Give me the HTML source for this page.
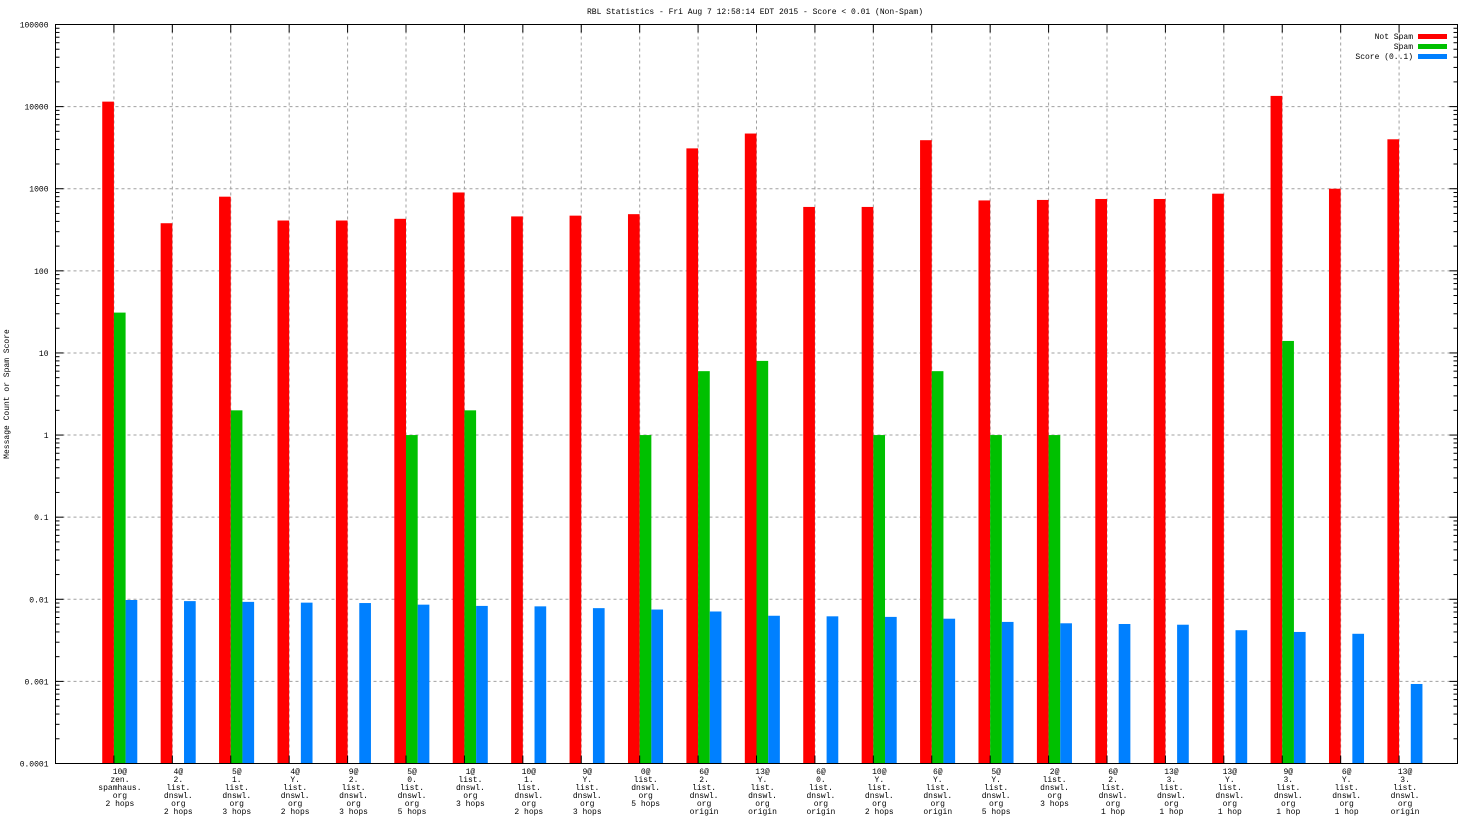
<!DOCTYPE html>
<html><head><meta charset="utf-8"><style>
body{margin:0;background:#fff;}
svg{display:block;font-family:"Liberation Mono",monospace;font-size:8px;}
</style></head><body>
<svg id="c" width="1472" height="828" xmlns="http://www.w3.org/2000/svg">
<text x="755" y="14" text-anchor="middle">RBL Statistics - Fri Aug  7 12:58:14 EDT 2015 - Score &lt; 0.01 (Non-Spam)</text>
<text transform="translate(9,394) rotate(-90)" text-anchor="middle">Message Count or Spam Score</text>
<g id="grid"></g><g id="bars"></g><g id="axes"></g>
<g>
<text x="1413" y="39" text-anchor="end">Not Spam</text>
<rect x="1418" y="34" width="29" height="5" fill="#ff0000"/>
<text x="1413" y="49" text-anchor="end">Spam</text>
<rect x="1418" y="44" width="29" height="5" fill="#00c000"/>
<text x="1413" y="59" text-anchor="end">Score (0..1)</text>
<rect x="1418" y="54" width="29" height="5" fill="#0080ff"/>
</g>
</svg>
<script>
const categories=[
["10@","zen.","spamhaus.","org","2 hops"],["4@","2.","list.","dnswl.","org","2 hops"],["5@","1.","list.","dnswl.","org","3 hops"],["4@","Y.","list.","dnswl.","org","2 hops"],["9@","2.","list.","dnswl.","org","3 hops"],["5@","0.","list.","dnswl.","org","5 hops"],["1@","list.","dnswl.","org","3 hops"],["10@","1.","list.","dnswl.","org","2 hops"],["9@","Y.","list.","dnswl.","org","3 hops"],["0@","list.","dnswl.","org","5 hops"],["6@","2.","list.","dnswl.","org","origin"],["13@","Y.","list.","dnswl.","org","origin"],["6@","0.","list.","dnswl.","org","origin"],["10@","Y.","list.","dnswl.","org","2 hops"],["6@","Y.","list.","dnswl.","org","origin"],["5@","Y.","list.","dnswl.","org","5 hops"],["2@","list.","dnswl.","org","3 hops"],["6@","2.","list.","dnswl.","org","1 hop"],["13@","3.","list.","dnswl.","org","1 hop"],["13@","Y.","list.","dnswl.","org","1 hop"],["9@","3.","list.","dnswl.","org","1 hop"],["6@","Y.","list.","dnswl.","org","1 hop"],["13@","3.","list.","dnswl.","org","origin"]];
const notSpam=[11500,380,800,410,410,430,900,460,470,490,3100,4700,600,600,3900,720,730,750,750,870,13500,1000,4000];
const spam=[31,0,2,0,0,1,2,0,0,1,6,8,0,1,6,1,1,0,0,0,14,0,0];
const score=[0.0098,0.0095,0.0093,0.0091,0.009,0.0086,0.0083,0.0082,0.0078,0.0075,0.0071,0.0063,0.0062,0.0061,0.0058,0.0053,0.0051,0.005,0.0049,0.0042,0.004,0.0038,0.00093];
const yTicks=["0.0001","0.001","0.01","0.1","1","10","100","1000","10000","100000"];
const NS="http://www.w3.org/2000/svg";
const L=55.5,R=1457.5,T=24.5,B=763.5;
const step=(R-L)/24, bw=step/5;
function y(v){return B-(Math.log10(v)+4)/9*(B-T);}
function gx(i){return L+step*(i+1);}
function mk(p,tag,a){const e=document.createElementNS(NS,tag);for(const k in a)e.setAttribute(k,a[k]);p.appendChild(e);return e;}
const grid=document.getElementById('grid'),bars=document.getElementById('bars'),axes=document.getElementById('axes');
yTicks.forEach((t,k)=>{const v=parseFloat(t),yy=y(v);
 if(k>0&&k<yTicks.length-1){const g=mk(grid,'line',{x1:L,x2:R,y1:yy,y2:yy,stroke:'#a0a0a0','stroke-dasharray':'3,3'});
 
 }
 const tx=mk(axes,'text',{x:L-7,y:yy+3,'text-anchor':'end'});tx.textContent=t;
 
 
 mk(axes,'line',{x1:L,x2:L+8,y1:yy,y2:yy,stroke:'#000'});mk(axes,'line',{x1:R,x2:R-8,y1:yy,y2:yy,stroke:'#000'});
 if(k<yTicks.length-1)for(let m=2;m<10;m++){const ym=y(v*m);mk(axes,'line',{x1:L,x2:L+4,y1:ym,y2:ym,stroke:'#000'});mk(axes,'line',{x1:R,x2:R-4,y1:ym,y2:ym,stroke:'#000'});}
});
categories.forEach((c,i)=>{const x=gx(i);
 const g=mk(grid,'line',{x1:x,x2:x,y1:T,y2:B,stroke:'#a0a0a0','stroke-dasharray':'3,3'});
 
 
 mk(axes,'line',{x1:x,x2:x,y1:B,y2:B-8,stroke:'#000'});mk(axes,'line',{x1:x,x2:x,y1:T,y2:T+8,stroke:'#000'});
 const series=[[notSpam,'#ff0000',x-bw,'bar-not-spam'],[spam,'#00c000',x,'bar-spam'],[score,'#0080ff',x+bw,'bar-score']];
 series.forEach(s=>{const v=s[0][i];if(v>0.0001){const r=mk(bars,'rect',{x:s[2],y:y(v),width:bw,height:B-y(v),fill:s[1]});
  
  }});
 const t=mk(axes,'text',{x:x+6,y:774,'text-anchor':'middle'});
 
 
 c.forEach((ln,j)=>{const s=mk(t,'tspan',{x:x+6,dy:j?8:0});s.textContent=ln;});
});
mk(axes,'rect',{x:L,y:T,width:R-L,height:B-T,fill:'none',stroke:'#000'});
</script>
</body></html>
